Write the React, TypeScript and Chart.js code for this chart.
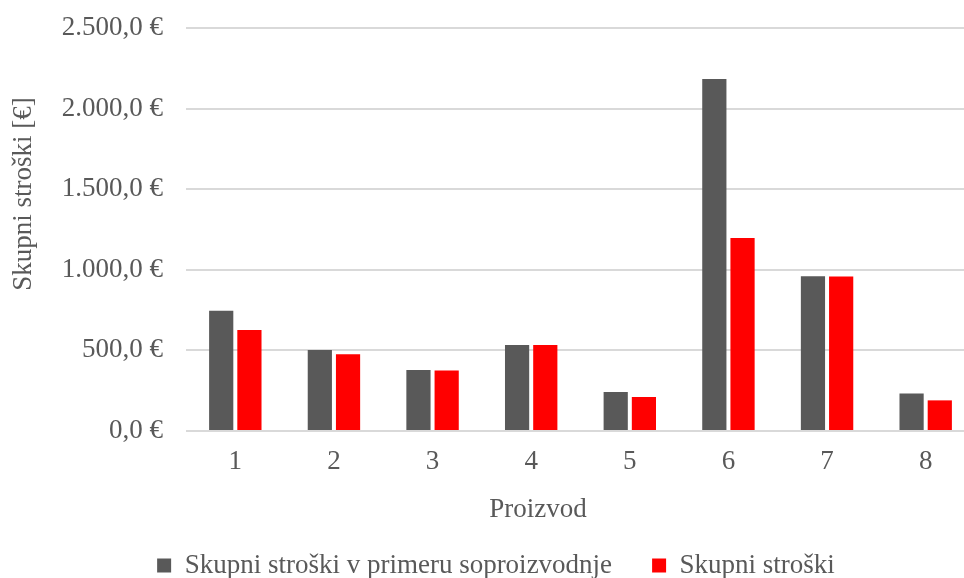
import { useEffect, useRef } from 'react';
import { Chart, registerables } from 'chart.js';

Chart.register(...registerables);

const categories = ['1', '2', '3', '4', '5', '6', '7', '8'];
const coProductionCosts = [746, 502, 378, 533, 242, 2184, 960, 232];
const totalCosts = [626, 476, 376, 533, 211, 1197, 958, 190];
const yTickValues = [0, 500, 1000, 1500, 2000, 2500];
const seriesNames = ['Skupni stroški v primeru soproizvodnje', 'Skupni stroški'];
const yTitle = 'Skupni stroški [€]';
const xTitle = 'Proizvod';

const FONT = '"Liberation Serif", "Times New Roman", serif';
const TEXT = '#595959';
const GRID = '#d9d9d9';

function formatEuro(v: number): string {
  const fixed = Number(v).toFixed(1);
  const [intPart, dec] = fixed.split('.');
  const withDots = intPart.replace(/\B(?=(\d{3})+(?!\d))/g, '.');
  return `${withDots},${dec} €`;
}

const titlesPlugin = {
  id: 'customAxisTitles',
  afterDraw(chart: any) {
    const ctx = chart.ctx;
    ctx.save();
    ctx.fillStyle = TEXT;
    ctx.font = `27px ${FONT}`;
    ctx.textAlign = 'center';
    ctx.textBaseline = 'middle';
    ctx.save();
    ctx.translate(24, 194);
    ctx.rotate(-Math.PI / 2);
    ctx.fillText(yTitle, 0, 0);
    ctx.restore();
    ctx.fillText(xTitle, 538, 510);
    ctx.restore();
  },
};

export default function App() {
  const canvasRef = useRef<HTMLCanvasElement | null>(null);

  useEffect(() => {
    const canvas = canvasRef.current;
    if (!canvas) return;
    const chart = new Chart(canvas, {
      type: 'bar',
      data: {
        labels: categories,
        datasets: [
          {
            label: seriesNames[0],
            data: coProductionCosts,
            backgroundColor: '#595959',
            borderWidth: 0,
            categoryPercentage: 0.572,
            barPercentage: 0.858,
          },
          {
            label: seriesNames[1],
            data: totalCosts,
            backgroundColor: '#ff0000',
            borderWidth: 0,
            categoryPercentage: 0.572,
            barPercentage: 0.858,
          },
        ],
      },
      options: {
        responsive: false,
        animation: false,
        devicePixelRatio: 1,
        layout: { padding: { left: 17, right: 5, top: 28, bottom: 0 } },
        plugins: {
          tooltip: { enabled: false },
          legend: {
            position: 'bottom',
            labels: {
              color: TEXT,
              font: { family: FONT, size: 27 },
              boxWidth: 14,
              boxHeight: 14,
              padding: 40,
            },
          },
        },
        scales: {
          x: {
            grid: { display: false },
            border: { display: false },
            ticks: {
              color: TEXT,
              font: { family: FONT, size: 27 },
              padding: 7,
            },
            afterFit: (scale: any) => {
              scale.height = 81;
              scale.paddingLeft = 0;
              scale.paddingRight = 0;
            },
          },
          y: {
            min: 0,
            max: 2500,
            afterBuildTicks: (scale: any) => {
              scale.ticks = yTickValues.map((v) => ({ value: v }));
            },
            grid: { color: GRID, lineWidth: 2, drawTicks: false },
            border: { display: false },
            ticks: {
              color: TEXT,
              font: { family: FONT, size: 27 },
              padding: 23,
              callback: (v: any) => formatEuro(Number(v)),
            },
            afterFit: (scale: any) => {
              scale.width = 169;
              scale.paddingTop = 0;
              scale.paddingBottom = 0;
            },
          },
        },
      },
      plugins: [titlesPlugin],
    });
    return () => chart.destroy();
  }, []);

  return (
    <div
      style={{
        position: 'fixed',
        left: 0,
        top: 0,
        width: 964,
        height: 578,
        overflow: 'hidden',
        background: '#ffffff',
      }}
    >
      <canvas ref={canvasRef} width={980} height={589} style={{ display: 'block' }} />
    </div>
  );
}
